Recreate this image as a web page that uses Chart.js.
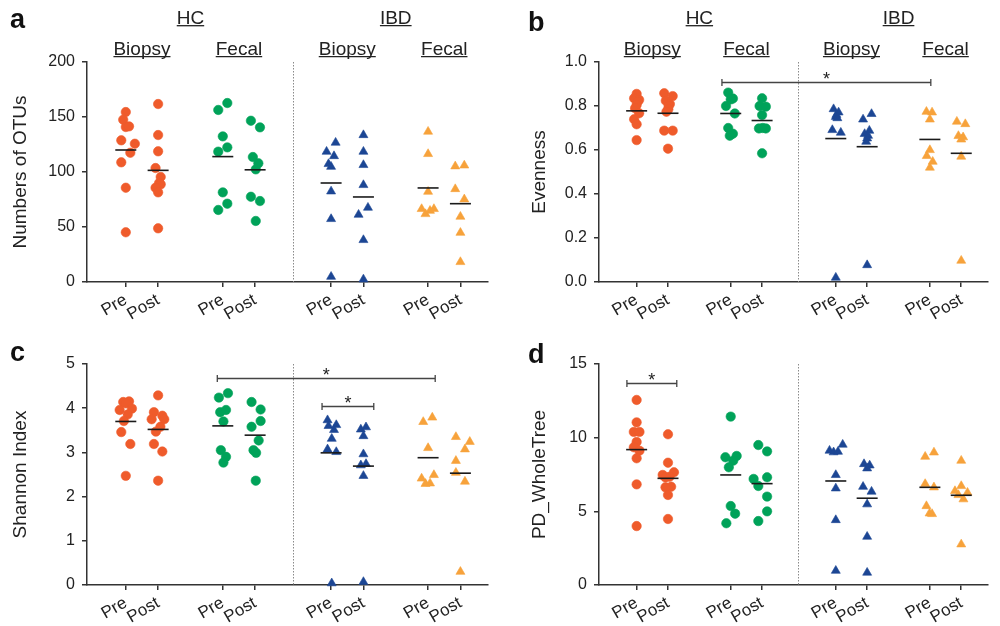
<!DOCTYPE html>
<html><head><meta charset="utf-8">
<script src="https://cdn.jsdelivr.net/npm/chart.js@4.4.1/dist/chart.umd.min.js"></script>
<style>
html,body{margin:0;padding:0;background:#fff;}
#wrap{position:relative;width:1000px;height:626px;overflow:hidden;background:#fff;}
.pane{position:absolute;}
</style></head><body>
<div id="wrap">
<div class="pane" style="left:0;top:0;width:500px;height:320px"><canvas id="ca"></canvas></div>
<div class="pane" style="left:500px;top:0;width:500px;height:320px"><canvas id="cb"></canvas></div>
<div class="pane" style="left:0;top:320px;width:500px;height:306px"><canvas id="cc"></canvas></div>
<div class="pane" style="left:500px;top:320px;width:500px;height:306px"><canvas id="cd"></canvas></div>
</div>
<script>
// ---------- shared categories ----------
const xPositions = [1.2, 2.2, 4.2, 5.2, 7.55, 8.55, 10.55, 11.55];
const xLabels = ['Pre','Post','Pre','Post','Pre','Post','Pre','Post'];
const dividerX = 6.36;
const cohortNames = ['HC','IBD'];
const cohortCenters = [3.2, 9.55];
const sampleNames = ['Biopsy','Fecal','Biopsy','Fecal'];
const sampleCenters = [1.7, 4.7, 8.05, 11.05];

// ---------- panel a: Numbers of OTUs ----------
const otuY = [
  [154.5,147.5,140.9,141.5,128.8,125.7,117.5,108.8,85.7,45.2],
  [161.8,133.6,118.8,103.6,95.5,90,88.8,85.7,81.5,48.8],
  [156.4,162.7,132.4,118.5,122.4,81.5,71.2,65.5],
  [146.6,140.6,113.6,107.9,102.4,77.5,73.6,55.5],
  [126.7,118.5,114.5,107.3,104.8,82.4,57.3,4.8],
  [133.6,118.5,106.4,88.2,67.6,61.2,38.2,2.4],
  [136.7,116.4,82.1,66.4,61.8,64.8,66.4],
  [105.2,106,84.5,75.2,59.4,44.8,18.2]
];
const otuDx = [
  [0,-0.08,0,0.1,-0.14,0.28,0.14,-0.14,0,0],
  [0,0,0,-0.08,0.08,0.03,0.08,-0.08,0,0],
  [-0.14,0.14,0,-0.14,0.14,0,0.14,-0.14],
  [-0.13,0.15,-0.07,0.1,0.02,-0.13,0.15,0.02],
  [0.14,-0.14,0.09,-0.08,0,0,0,0],
  [0,0,0,0,0.14,-0.15,0,0],
  [0,0,0,-0.2,-0.08,0.06,0.18],
  [-0.16,0.12,-0.16,0.12,0,0,0]
];
const otuMean = [120, 101.5, 114, 102, 90, 77.3, 85.5, 71.2];

// ---------- panel b: Evenness ----------
const evenY = [
  [0.855,0.835,0.828,0.82,0.805,0.79,0.767,0.74,0.717,0.645],
  [0.858,0.845,0.824,0.809,0.8,0.785,0.774,0.688,0.688,0.606],
  [0.861,0.834,0.83,0.8,0.766,0.7,0.674,0.665],
  [0.835,0.8,0.797,0.759,0.698,0.698,0.7,0.585],
  [0.786,0.771,0.76,0.751,0.745,0.691,0.679,0.02],
  [0.764,0.739,0.688,0.673,0.665,0.653,0.638,0.077],
  [0.774,0.771,0.739,0.6,0.573,0.547,0.52],
  [0.729,0.718,0.664,0.658,0.648,0.57,0.097]
];
const evenDx = [
  [0,-0.08,0.08,0.03,0,-0.05,0.08,-0.08,0,0],
  [-0.12,0.15,-0.07,0.06,0.02,0.01,-0.05,-0.12,0.15,0],
  [-0.08,0.07,0,-0.15,0.13,-0.08,0.07,-0.03],
  [0,-0.08,0.12,0,-0.1,0.12,0.02,0],
  [-0.07,0.09,0.02,0,0.05,-0.11,0.16,0],
  [0.14,-0.13,0.07,-0.08,0.03,0,-0.03,0],
  [-0.11,0.07,0,0,-0.1,0.09,0],
  [-0.14,0.13,-0.09,0.06,0,0,0]
];
const evenMean = [0.778, 0.767, 0.766, 0.734, 0.652, 0.615, 0.648, 0.585];

// ---------- panel c: Shannon Index ----------
const shanY = [
  [4.14,4.155,4.11,3.96,3.99,3.86,3.71,3.46,3.19,2.47],
  [4.29,3.91,3.83,3.75,3.75,3.58,3.47,3.19,3.02,2.36],
  [4.24,4.34,3.91,3.96,3.7,3.05,2.9,2.77],
  [4.14,3.97,3.71,3.58,3.27,3.05,2.99,2.36],
  [3.73,3.6,3.62,3.51,3.31,3.07,3.01,0.04],
  [3.52,3.57,3.37,2.96,2.71,2.74,2.47,0.07],
  [3.69,3.79,3.1,2.41,2.49,2.29,2.3],
  [3.35,3.24,3.07,2.81,2.54,2.34,0.3]
];
const shanDx = [
  [-0.08,0.1,0,-0.19,0.19,0.06,-0.06,-0.14,0.14,0],
  [0,-0.13,0.13,-0.2,0.19,0.07,-0.07,-0.13,0.13,0],
  [-0.12,0.16,-0.08,0.1,0.02,-0.06,0.1,0.02],
  [-0.11,0.17,0.17,-0.11,0.11,-0.05,0.03,0.02],
  [-0.11,-0.08,0.16,0.09,0.02,-0.11,0.16,0.02],
  [-0.08,0.08,0,0,-0.08,0.08,0,0],
  [-0.15,0.13,0,-0.2,0.18,-0.08,0.06],
  [-0.14,0.29,0.14,-0.14,-0.14,0.14,0]
];
const shanMean = [3.70, 3.52, 3.60, 3.39, 2.99, 2.69, 2.88, 2.53];

// ---------- panel d: PD_WholeTree ----------
const pdY = [
  [12.56,11.04,10.39,10.39,9.71,9.35,9.12,8.6,6.83,4.0],
  [10.23,8.3,7.65,7.47,7.35,7.3,6.67,6.63,6.11,4.48],
  [11.43,8.67,8.76,8.44,7.99,5.36,4.84,4.19],
  [9.5,9.07,7.2,7.31,6.72,6.0,5.0,4.34],
  [9.12,9.01,9.05,9.53,7.47,6.56,4.41,0.97],
  [8.21,8.12,7.92,6.67,6.34,5.48,3.28,0.84],
  [8.71,9.0,6.86,6.63,5.36,4.86,4.82],
  [8.44,6.72,6.38,6.27,6.11,5.82,2.76]
];
const pdDx = [
  [0,0,-0.09,0.09,0,-0.09,0.09,0,0,0],
  [0,0,0.19,-0.17,0.05,-0.08,0.1,-0.08,0,0],
  [0,-0.17,0.19,0.08,-0.06,0,0.14,-0.14],
  [-0.12,0.16,-0.27,0.16,-0.12,0.16,0.16,-0.12],
  [-0.2,-0.07,0.07,0.22,0,0,0,0],
  [-0.1,0.08,0,-0.13,0.14,0,0,0],
  [-0.15,0.13,-0.15,0.13,-0.11,-0.01,0.07],
  [0,0,-0.2,0.2,-0.09,0.07,0]
];
const pdMean = [9.19, 7.24, 7.47, 6.88, 7.06, 5.89, 6.63, 6.09];

// significance brackets: [x start, x end, y]
const evenBrackets = [[3.92, 10.58, 0.909]];
const shanBrackets = [[4.03, 10.77, 4.68], [7.27, 8.87, 4.05]];
const pdBrackets = [[0.89, 2.48, 13.69]];

// ---------- styles ----------
const FONT = '"Liberation Sans", Arial, Helvetica, sans-serif';
const groupColors = ['#EF5B2B','#EF5B2B','#00A259','#00A259','#1C4694','#1C4694','#F7A23B','#F7A23B'];
const groupShapes = ['circle','circle','circle','circle','triangle','triangle','triangle','triangle'];
const AXIS = '#333333';

function buildDatasets(ys, dxs, means){
  const ds = [];
  ds.push({
    data: xPositions.map((p,i)=>({x:p, y:means[i]})),
    pointStyle:'line', pointRadius:10.5, pointHoverRadius:10.5,
    borderColor:'#1a1a1a', pointBorderColor:'#1a1a1a', pointBorderWidth:1.6, borderWidth:1.6,
    showLine:false, clip:false
  });
  ys.forEach((arr,g)=>{
    const tri = groupShapes[g]==='triangle';
    ds.push({
      data: arr.map((v,k)=>({x:xPositions[g]+dxs[g][k], y:v})),
      pointStyle: groupShapes[g],
      pointRadius: tri?5.2:4.7, pointHoverRadius: tri?5.2:4.7,
      backgroundColor: groupColors[g], borderColor: groupColors[g],
      pointBorderWidth: 0.6, showLine:false, clip:false
    });
  });
  return ds;
}

function makePanel(p){
  const overlay = {
    id:'overlay',
    beforeDatasetsDraw(chart){
      const ctx = chart.ctx, xs = chart.scales.x, a = chart.chartArea;
      const x = Math.round(xs.getPixelForValue(dividerX))+0.5;
      ctx.save();
      ctx.strokeStyle = '#8a8a8a'; ctx.lineWidth = 1; ctx.setLineDash([1.5,1.5]);
      ctx.beginPath(); ctx.moveTo(x, a.top); ctx.lineTo(x, a.bottom); ctx.stroke();
      ctx.restore();
    },
    afterDraw(chart){
      const ctx = chart.ctx, xs = chart.scales.x, ys = chart.scales.y;
      ctx.save();
      ctx.fillStyle = '#111';
      ctx.font = 'bold 27px ' + FONT;
      ctx.textAlign = 'left'; ctx.textBaseline = 'alphabetic';
      ctx.fillText(p.letter, p.letterX, p.letterY);
      if (p.headers){
        ctx.font = '19px ' + FONT; ctx.fillStyle = '#222'; ctx.strokeStyle = '#222'; ctx.lineWidth = 1.3;
        ctx.textAlign = 'center';
        const drawU = (txt, v, base) => {
          const cx = xs.getPixelForValue(v);
          ctx.fillText(txt, cx, base);
          const w = ctx.measureText(txt).width;
          ctx.beginPath(); ctx.moveTo(cx - w/2, base + 2.2); ctx.lineTo(cx + w/2, base + 2.2); ctx.stroke();
        };
        cohortNames.forEach((t,i)=>drawU(t, cohortCenters[i], 23.5));
        sampleNames.forEach((t,i)=>drawU(t, sampleCenters[i], 54.5));
      }
      ctx.strokeStyle = '#444'; ctx.lineWidth = 1.3; ctx.fillStyle = '#222';
      ctx.font = '18px ' + FONT; ctx.textAlign = 'center';
      (p.brackets||[]).forEach(b=>{
        const x1 = xs.getPixelForValue(b[0]), x2 = xs.getPixelForValue(b[1]);
        const y = Math.round(ys.getPixelForValue(b[2])) + 0.5;
        ctx.beginPath();
        ctx.moveTo(x1, y); ctx.lineTo(x2, y);
        ctx.moveTo(x1, y-3.5); ctx.lineTo(x1, y+3.5);
        ctx.moveTo(x2, y-3.5); ctx.lineTo(x2, y+3.5);
        ctx.stroke();
        ctx.fillText('*', (x1+x2)/2, y - 7.5 + 0.57*18);
      });
      ctx.restore();
    }
  };
  return new Chart(document.getElementById(p.id), {
    type:'scatter',
    data:{ datasets: buildDatasets(p.ys, p.dxs, p.means) },
    options:{
      responsive:true, maintainAspectRatio:false, animation:false,
      layout:{ padding:{ left:0, top:p.top, right:p.right, bottom:0 } },
      plugins:{ legend:{display:false}, tooltip:{enabled:false} },
      events:[],
      scales:{
        x:{
          type:'linear', min:0, max:12.4,
          afterBuildTicks: s => { s.ticks = xPositions.map(v=>({value:v})); },
          afterFit: s => { s.height = p.xh; },
          grid:{ drawOnChartArea:false, drawTicks:true, tickLength:5, color:AXIS, lineWidth:1.5 },
          border:{ display:true, color:AXIS, width:1.5 },
          ticks:{ autoSkip:false, maxRotation:30, minRotation:30, padding:3, color:'#222',
                  font:{ family:FONT, size:17 }, callback:(v,i)=>xLabels[i] }
        },
        y:{
          type:'linear', min:p.min, max:p.max,
          afterFit: s => { s.width = p.yw; },
          grid:{ drawOnChartArea:false, drawTicks:true, tickLength:5, color:AXIS, lineWidth:1.5 },
          border:{ display:true, color:AXIS, width:1.5 },
          ticks:{ stepSize:p.step, padding:7, color:'#222', font:{ family:FONT, size:16 },
                  callback: v => p.fmt(v) },
          title:{ display:true, text:p.title, color:'#222', font:{ family:FONT, size:19 },
                  padding:{ top:p.titlePad, bottom:0 } }
        }
      }
    },
    plugins:[overlay]
  });
}

makePanel({ id:'ca', letter:'a', letterX:10, letterY:28, headers:true,
  ys:otuY, dxs:otuDx, means:otuMean, min:0, max:200, step:50, fmt:v=>String(v),
  title:'Numbers of OTUs', titlePad:9.5, top:62, right:10, yw:87, xh:38, brackets:[] });
makePanel({ id:'cb', letter:'b', letterX:28, letterY:31, headers:true,
  ys:evenY, dxs:evenDx, means:evenMean, min:0, max:1, step:0.2, fmt:v=>v.toFixed(1),
  title:'Evenness', titlePad:28, top:62, right:0, yw:99, xh:38, brackets:evenBrackets });
makePanel({ id:'cc', letter:'c', letterX:10, letterY:41, headers:false,
  ys:shanY, dxs:shanDx, means:shanMean, min:0, max:5, step:1, fmt:v=>String(v),
  title:'Shannon Index', titlePad:9.5, top:44, right:10, yw:87, xh:41, brackets:shanBrackets });
makePanel({ id:'cd', letter:'d', letterX:28, letterY:43, headers:false,
  ys:pdY, dxs:pdDx, means:pdMean, min:0, max:15, step:5, fmt:v=>String(v),
  title:'PD_WholeTree', titlePad:28, top:44, right:0, yw:99, xh:41, brackets:pdBrackets });
</script>
</body></html>
